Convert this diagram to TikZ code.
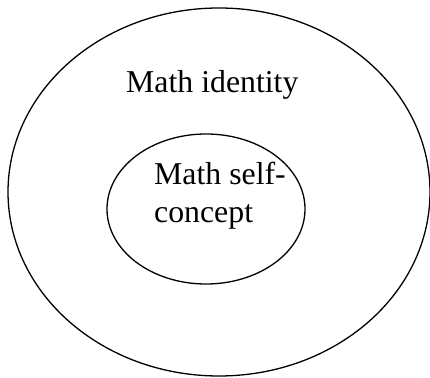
\documentclass[tikz,border=0pt]{standalone}
\usepackage{fontspec}
\setmainfont{Liberation Serif}
\usepackage{tikz}
\usetikzlibrary{shapes.geometric}
\tikzset{
  ring/.style={ellipse,draw=black,line width=1.3pt,inner sep=0pt},
  lab/.style={inner sep=0pt,font=\fontsize{31.8}{38}\selectfont,align=left}
}

\begin{document}
\begin{tikzpicture}[x=1pt,y=1pt]
  \useasboundingbox (0,0) rectangle (430,377);
  \node[ring,minimum width=422pt,minimum height=368pt] (identity) at (219,185) {};
  \node[ring,minimum width=198pt,minimum height=150pt] (selfconcept) at (206,168) {};
  \node[lab,anchor=base west] (identitylab) at (126,284) {Math identity};
  \node[lab,anchor=north west] (selflab) at (154,215) {Math self-\\concept};
\end{tikzpicture}
\end{document}
